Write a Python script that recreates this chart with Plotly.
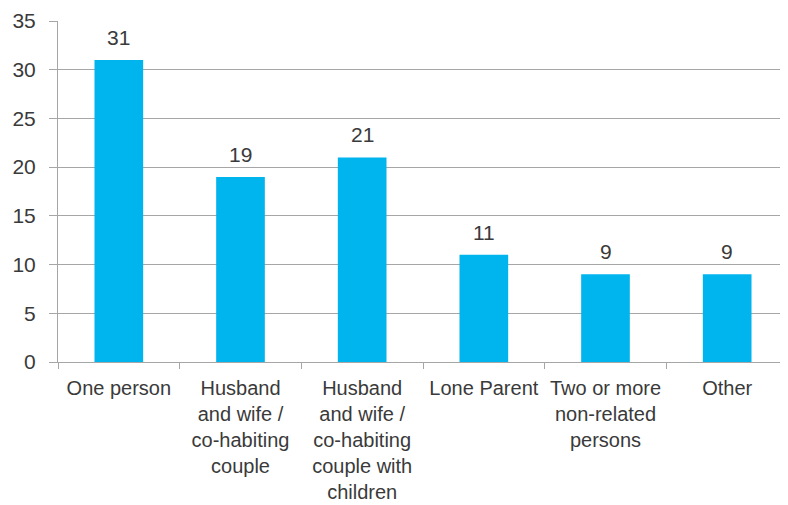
import plotly.graph_objects as go

categories = ["One person", "Husband<br>and wife /<br>co-habiting<br>couple",
              "Husband<br>and wife /<br>co-habiting<br>couple with<br>children",
              "Lone Parent", "Two or more<br>non-related<br>persons", "Other"]
values = [31, 19, 21, 11, 9, 9]
y_ticks = [0, 5, 10, 15, 20, 25, 30, 35]

bar_color = "#00B4EE"
grid_color = "#A6A6A6"
text_color = "#3A3A3A"
font_family = "Liberation Sans, Arial, sans-serif"

fig = go.Figure()
fig.add_trace(go.Bar(x=categories, y=values, marker=dict(color=bar_color, line=dict(width=0)),
                     hoverinfo="skip"))

for c, v in zip(categories, values):
    fig.add_annotation(x=c, y=v, text=str(v), showarrow=False, yanchor="bottom", yshift=9,
                       font=dict(size=21, color=text_color, family=font_family))

fig.update_layout(
    width=780, height=497,
    margin=dict(l=50, r=0, t=13, b=143),
    plot_bgcolor="white", paper_bgcolor="white",
    bargap=0.6, showlegend=False,
    font=dict(family=font_family, color=text_color),
)
fig.update_yaxes(range=[0, 35], tickvals=y_ticks, showgrid=True, gridcolor=grid_color, gridwidth=1,
                 showline=True, linecolor=grid_color, linewidth=1, automargin=False,
                 ticks="outside", ticklen=8, tickcolor=grid_color,
                 tickfont=dict(size=21, color=text_color), ticklabelstandoff=9, zeroline=False)
fig.update_xaxes(showline=True, linecolor=grid_color, linewidth=1, tickson="boundaries",
                 ticks="outside", ticklen=6, tickcolor=grid_color, automargin=False,
                 tickfont=dict(size=20, color=text_color), ticklabelstandoff=8, showgrid=False)

fig.write_html("out.html")
